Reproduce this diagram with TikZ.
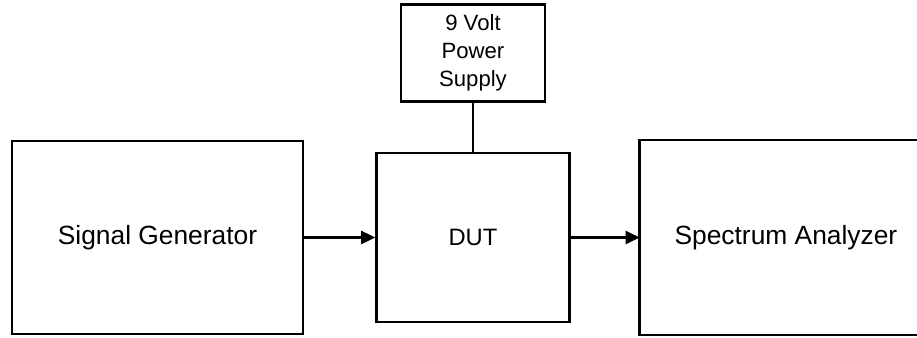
\documentclass[tikz,border=0pt]{standalone}
\usepackage{fontspec}
\setmainfont{Liberation Sans}
\usetikzlibrary{arrows.meta}
\usetikzlibrary{positioning}

\begin{document}
\begin{tikzpicture}[>={Triangle[length=2.8mm,width=2.6mm]}, line width=1.4pt,
		blk/.style={draw, inner sep=0pt, align=center},
		bigtxt/.style={font=\fontsize{15}{18}\selectfont}]
		\useasboundingbox (0,0) rectangle (18.34,-6.76);
		\coordinate (edge) at (18.34,0);
		\node[blk, bigtxt, minimum width=5.82cm, minimum height=3.86cm] (Gen) at (3.15,-4.75) {Signal Generator};
		\node[blk, minimum width=3.86cm, minimum height=3.38cm, font=\fontsize{13.5}{16}\selectfont] (DUT) [right=1.42cm of Gen] {DUT};
		% analyzer box runs off the right edge
		\node[blk, bigtxt, draw=none, minimum width=5.8cm, minimum height=3.84cm] (Spec) [right=1.38cm of DUT] {Spectrum Analyzer};
		\node[blk, minimum width=2.88cm, minimum height=1.94cm, font=\fontsize{12.6}{16}\selectfont] (Pwr) [above=0.98cm of DUT] {9 Volt\\Power\\Supply};
		\draw (Spec.north west -| edge) -- (Spec.north west) -- (Spec.south west) -- (Spec.south west -| edge);
		\draw[->] (Gen) -- (DUT);
		\draw[->] (DUT) -- (Spec);
		\draw (Pwr) -- (DUT);
	\end{tikzpicture}
\end{document}
